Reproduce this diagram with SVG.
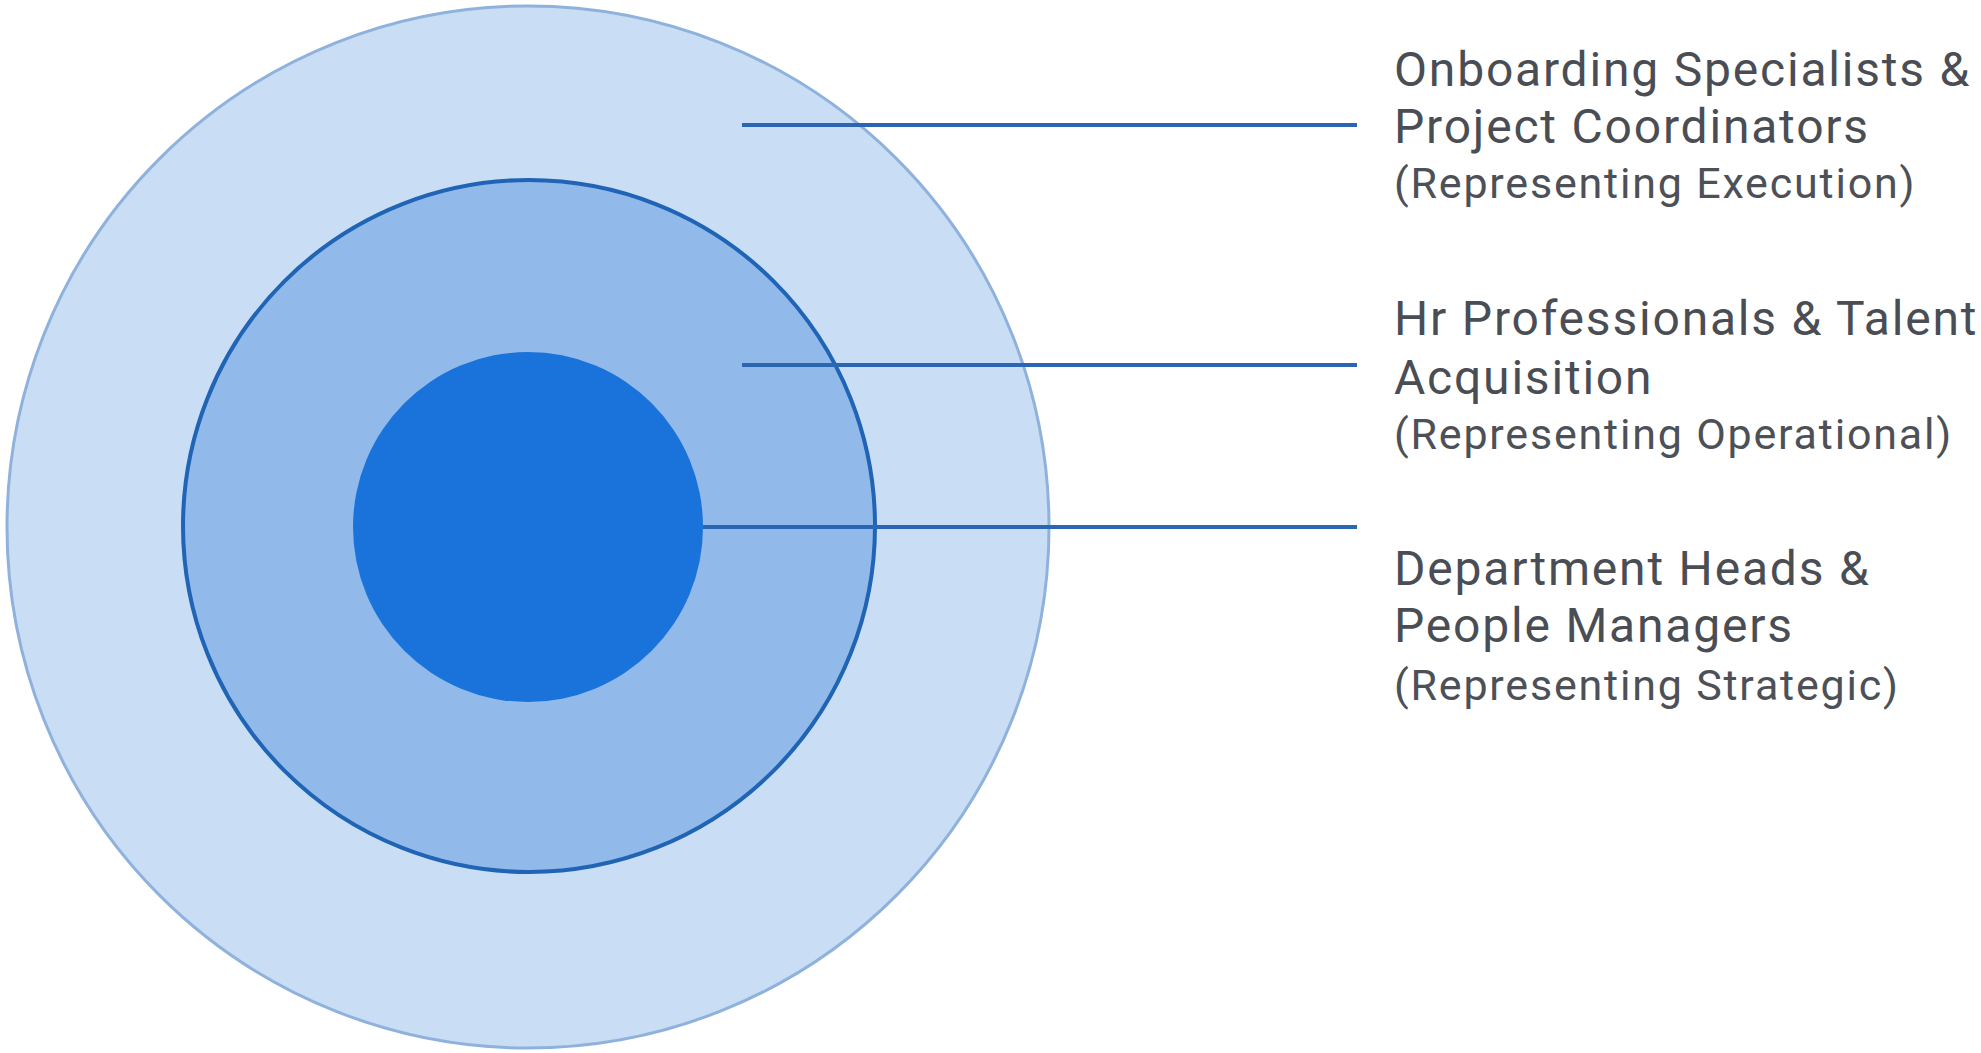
<svg xmlns="http://www.w3.org/2000/svg" width="1981" height="1053" viewBox="0 0 1981 1053">
<style>
.t{font-family:Roboto,"Liberation Sans",sans-serif;fill:#4a4e54;font-size:48px;letter-spacing:1.8px}
.s{font-family:Roboto,"Liberation Sans",sans-serif;fill:#4d5157;font-size:43px;letter-spacing:1.8px}
.c{stroke:#2b66b3;stroke-width:4;fill:none}
</style>
<rect width="1981" height="1053" fill="#ffffff"/>
<g id="outer"><circle cx="528" cy="527" r="521" fill="#c9ddf4" stroke="#8fb2dd" stroke-width="3"/></g>
<g id="middle"><circle cx="529" cy="526" r="346" fill="#91baea" stroke="#1f64b5" stroke-width="4"/></g>
<g id="inner"><circle cx="528" cy="527" r="175" fill="#1a73da"/></g>
<g id="connectors">
<line class="c" x1="742" y1="125" x2="1357" y2="125"/>
<line class="c" x1="742" y1="365" x2="1357" y2="365"/>
<line class="c" x1="703" y1="527" x2="1357" y2="527"/>
</g>
<g id="label1">
<text class="t" x="1394" y="86">Onboarding Specialists &amp;</text>
<text class="t" x="1394" y="143">Project Coordinators</text>
<text class="s" x="1394" y="198">(Representing Execution)</text>
</g>
<g id="label2">
<text class="t" x="1394" y="335">Hr Professionals &amp; Talent</text>
<text class="t" x="1394" y="394">Acquisition</text>
<text class="s" x="1394" y="449">(Representing Operational)</text>
</g>
<g id="label3">
<text class="t" x="1394" y="585">Department Heads &amp;</text>
<text class="t" x="1394" y="642">People Managers</text>
<text class="s" x="1394" y="700">(Representing Strategic)</text>
</g>
</svg>
